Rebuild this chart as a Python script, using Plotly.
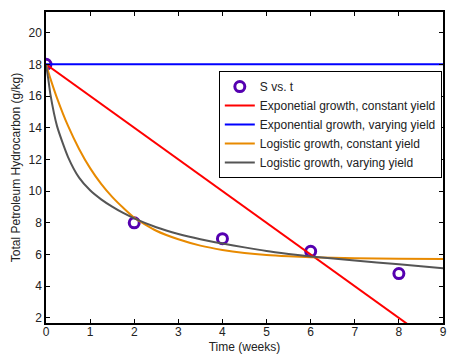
import plotly.graph_objects as go

# Measured substrate concentration
t_obs = [0, 2, 4, 6, 8]
s_obs = [18, 8, 7, 6.2, 4.8]

# Model predictions (weeks, g/kg)
t_lin = [0, 9]
s_exp_const = [18, 0]
s_exp_vary = [18, 18]

t_model = [0, 0.05, 0.1, 0.25, 0.5, 0.75, 1, 1.25, 1.5, 1.75, 2, 2.5, 3, 3.5, 4, 4.5, 5, 5.5, 6, 7, 8, 9]
s_log_const = [18, 17.55, 17.1, 15.87, 14.11, 12.66, 11.45, 10.46, 9.64, 8.95, 8.33, 7.5, 6.96, 6.56,
               6.29, 6.1, 5.97, 5.89, 5.83, 5.76, 5.73, 5.72]
s_log_vary = [18, 17.1, 16.1, 14.1, 12.15, 10.85, 10.05, 9.48, 9.02, 8.62, 8.28, 7.72, 7.3, 6.97,
              6.7, 6.45, 6.22, 6.04, 5.88, 5.62, 5.38, 5.13]

x_ticks = list(range(0, 10))
y_ticks = list(range(2, 21, 2))

fig = go.Figure()
fig.add_trace(go.Scatter(
    x=t_obs, y=s_obs, mode="markers", name="S vs. t",
    marker=dict(symbol="circle-open", size=10, color="#5500b0", line=dict(width=3, color="#5500b0")),
))
fig.add_trace(go.Scatter(x=t_lin, y=s_exp_const, mode="lines", name="Exponetial growth, constant yield",
                         line=dict(color="#ff0000", width=2)))
fig.add_trace(go.Scatter(x=t_lin, y=s_exp_vary, mode="lines", name="Exponential growth, varying yield",
                         line=dict(color="#0000ff", width=2)))
fig.add_trace(go.Scatter(x=t_model, y=s_log_const, mode="lines", name="Logistic growth, constant yield",
                         line=dict(color="#e88a00", width=2, shape="spline", smoothing=0.6)))
fig.add_trace(go.Scatter(x=t_model, y=s_log_vary, mode="lines", name="Logistic growth, varying yield",
                         line=dict(color="#555555", width=2, shape="spline", smoothing=0.6)))

axis_common = dict(
    showline=True, linecolor="black", linewidth=1.5, mirror="ticks",
    ticks="inside", ticklen=4, tickwidth=1, tickcolor="black",
    showgrid=False, zeroline=False, automargin=False,
    tickfont=dict(family="Liberation Sans, Arial, sans-serif", size=12, color="#222222"),
)

fig.update_layout(
    width=454, height=355,
    margin=dict(l=46, r=11, t=12, b=32),
    paper_bgcolor="white", plot_bgcolor="white",
    font=dict(family="Liberation Sans, Arial, sans-serif", size=12, color="#222222"),
    xaxis=dict(range=[0, 9], tickvals=x_ticks, ticklabelstandoff=-3,
               title=dict(text="Time (weeks)", standoff=4, font=dict(size=12)), **axis_common),
    yaxis=dict(range=[1.68, 21.3], tickvals=y_ticks,
               title=dict(text="Total Petroleum Hydrocarbon (g/kg)", standoff=5, font=dict(size=12)), **axis_common),
    legend=dict(x=0.997, y=0.81, xanchor="right", yanchor="top",
                bordercolor="black", borderwidth=1, bgcolor="white",
                font=dict(size=12), tracegroupgap=0, itemwidth=30),
    showlegend=True,
)

fig.write_html("out.html")
